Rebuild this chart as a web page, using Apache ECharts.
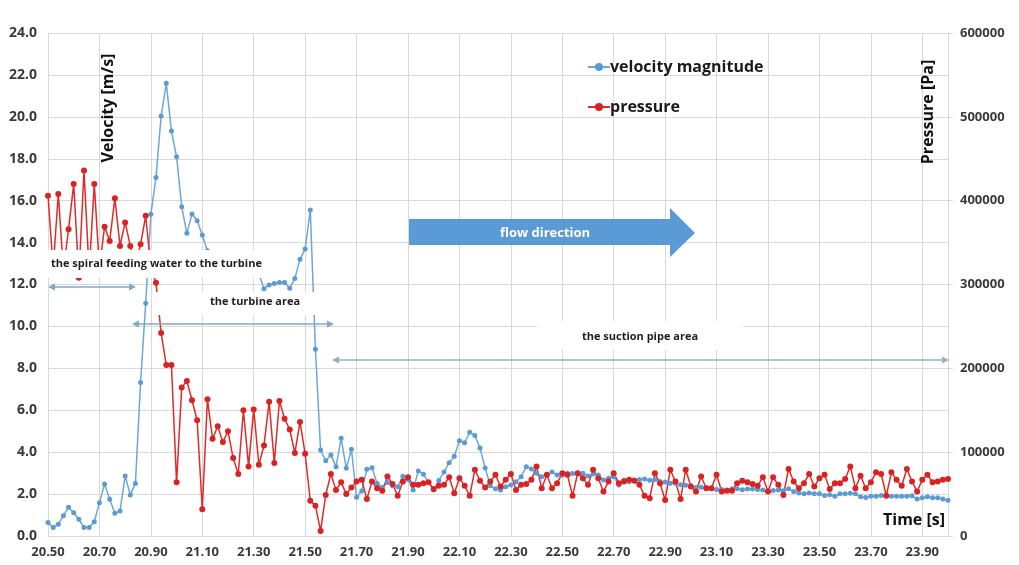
<!DOCTYPE html>
<html>
<head>
<meta charset="utf-8">
<title>velocity magnitude and pressure</title>
<script src="https://cdn.jsdelivr.net/npm/echarts@6.0.0/dist/echarts.min.js"></script>
<style>
	html, body { margin: 0; padding: 0; background: #fff; }
	#chart { width: 1019px; height: 565px; }
</style>
</head>
<body>
<div id="chart"></div>
<script>
	// time steps [s]
	var times = [
		'20.50','20.52','20.54','20.56','20.58','20.60','20.62','20.64','20.66','20.68',
		'20.70','20.72','20.74','20.76','20.78','20.80','20.82','20.84','20.86','20.88',
		'20.90','20.92','20.94','20.96','20.98','21.00','21.02','21.04','21.06','21.08',
		'21.10','21.12','21.14','21.16','21.18','21.20','21.22','21.24','21.26','21.28',
		'21.30','21.32','21.34','21.36','21.38','21.40','21.42','21.44','21.46','21.48',
		'21.50','21.52','21.54','21.56','21.58','21.60','21.62','21.64','21.66','21.68',
		'21.70','21.72','21.74','21.76','21.78','21.80','21.82','21.84','21.86','21.88',
		'21.90','21.92','21.94','21.96','21.98','22.00','22.02','22.04','22.06','22.08',
		'22.10','22.12','22.14','22.16','22.18','22.20','22.22','22.24','22.26','22.28',
		'22.30','22.32','22.34','22.36','22.38','22.40','22.42','22.44','22.46','22.48',
		'22.50','22.52','22.54','22.56','22.58','22.60','22.62','22.64','22.66','22.68',
		'22.70','22.72','22.74','22.76','22.78','22.80','22.82','22.84','22.86','22.88',
		'22.90','22.92','22.94','22.96','22.98','23.00','23.02','23.04','23.06','23.08',
		'23.10','23.12','23.14','23.16','23.18','23.20','23.22','23.24','23.26','23.28',
		'23.30','23.32','23.34','23.36','23.38','23.40','23.42','23.44','23.46','23.48',
		'23.50','23.52','23.54','23.56','23.58','23.60','23.62','23.64','23.66','23.68',
		'23.70','23.72','23.74','23.76','23.78','23.80','23.82','23.84','23.86','23.88',
		'23.90','23.92','23.94','23.96','23.98','24.00'
	];

	// velocity magnitude [m/s]
	var velocity = [
		0.64, 0.41, 0.56, 0.97, 1.37, 1.11, 0.80, 0.41, 0.41, 0.68,
		1.59, 2.48, 1.75, 1.08, 1.19, 2.86, 1.96, 2.51, 7.33, 11.10,
		15.35, 17.11, 20.04, 21.60, 19.32, 18.10, 15.71, 14.44, 15.36, 15.04,
		14.36, 13.61, 13.30, 13.10, 12.90, 12.80, 12.90, 12.70, 12.60, 12.80,
		12.70, 12.50, 11.80, 11.98, 12.05, 12.09, 12.09, 11.82, 12.29, 13.20,
		13.69, 15.55, 8.91, 4.10, 3.59, 3.86, 3.31, 4.66, 3.23, 4.14,
		1.85, 2.15, 3.18, 3.26, 2.51, 2.32, 2.55, 2.40, 2.35, 2.85,
		2.70, 2.20, 3.10, 2.95, 2.55, 2.20, 2.65, 3.05, 3.50, 3.80,
		4.55, 4.45, 4.95, 4.80, 4.20, 3.25, 2.40, 2.25, 2.20, 2.35,
		2.43, 2.59, 2.83, 3.31, 3.20, 3.00, 2.83, 2.91, 3.05, 2.91,
		2.90, 3.00, 2.98, 2.96, 3.00, 2.86, 2.96, 2.91, 2.67, 2.75,
		2.83, 2.43, 2.67, 2.59, 2.67, 2.70, 2.72, 2.66, 2.70, 2.60,
		2.58, 2.52, 2.52, 2.45, 2.42, 2.38, 2.32, 2.33, 2.30, 2.26,
		2.22, 2.22, 2.20, 2.26, 2.25, 2.21, 2.24, 2.24, 2.22, 2.20,
		2.13, 2.17, 2.19, 2.16, 2.26, 2.12, 2.05, 2.02, 2.05, 2.02,
		2.02, 1.93, 1.97, 1.90, 2.02, 2.01, 2.04, 2.01, 1.87, 1.84,
		1.90, 1.90, 1.93, 1.92, 1.90, 1.90, 1.90, 1.90, 1.92, 1.76,
		1.83, 1.87, 1.83, 1.83, 1.76, 1.70
	];

	// pressure [Pa]
	var pressure = [
		406000, 320000, 408000, 317000, 366000, 420000, 308000, 436000, 315000, 420000,
		320000, 369000, 352000, 403000, 346000, 374000, 346000, 322000, 348000, 382000,
		320000, 302000, 242000, 204000, 204000, 64000, 177000, 185000, 162000, 138000,
		32000, 163000, 116000, 131000, 112000, 125000, 93000, 74000, 150000, 83000,
		151000, 85000, 108000, 160000, 87000, 161000, 140000, 127000, 99000, 136000,
		98000, 42000, 36000, 6000, 49000, 74000, 55000, 64000, 50000, 58000,
		65000, 67000, 44000, 65000, 57000, 54000, 71000, 62000, 48000, 65000,
		70000, 61000, 61000, 63000, 64000, 56000, 60000, 61000, 70000, 51000,
		69000, 60000, 48000, 79000, 66000, 58000, 65000, 73000, 59000, 67000,
		74000, 55000, 61000, 62000, 67000, 83000, 57000, 73000, 57000, 63000,
		75000, 73000, 48000, 75000, 69000, 61000, 79000, 69000, 53000, 65000,
		75000, 63000, 65000, 67000, 66000, 61000, 48000, 45000, 75000, 63000,
		43000, 79000, 65000, 44000, 79000, 59000, 53000, 71000, 57000, 57000,
		73000, 53000, 54000, 54000, 63000, 66000, 64000, 62000, 60000, 70000,
		53000, 70000, 61000, 49000, 80000, 65000, 57000, 63000, 74000, 59000,
		69000, 73000, 56000, 63000, 63000, 68000, 83000, 57000, 72000, 57000,
		64000, 76000, 74000, 48000, 76000, 67000, 60000, 80000, 65000, 53000,
		67000, 73000, 64000, 65000, 67000, 68000
	];

	var seriesNames = ['velocity magnitude', 'pressure'];
	var notes = ['the spiral feeding water to the turbine', 'the turbine area', 'the suction pipe area', 'flow direction'];

	var fontName = '"Open Sans", "Noto Sans", sans-serif';
	var labelColor = '#3a3a3a';
	var gridColor = '#d9d9d9';

	// double headed arrow used for the area marks
	function arrow(x1, x2, y, color) {
		return [
			{ type: 'line', z: 100, shape: { x1: x1 + 5, y1: y, x2: x2 - 5, y2: y }, style: { stroke: color, lineWidth: 1.5 } },
			{ type: 'polygon', z: 100, shape: { points: [[x1, y], [x1 + 7, y - 3.5], [x1 + 7, y + 3.5]] }, style: { fill: color } },
			{ type: 'polygon', z: 100, shape: { points: [[x2, y], [x2 - 7, y - 3.5], [x2 - 7, y + 3.5]] }, style: { fill: color } }
		];
	}

	function note(text, x, y, size, color, align) {
		return {
			type: 'text', z: 101, x: x, y: y,
			style: { text: text, fill: color || '#1f1f1f', font: 'bold ' + (size || 11) + 'px ' + fontName, align: align || 'left', verticalAlign: 'middle' }
		};
	}

	var graphics = [
		// white label boxes that sit on top of the curves
		{ type: 'rect', z: 100, shape: { x: 40, y: 250, width: 230, height: 28 }, style: { fill: '#fff' } },
		{ type: 'rect', z: 100, shape: { x: 152, y: 292, width: 180, height: 23 }, style: { fill: '#fff' } },
		{ type: 'rect', z: 100, shape: { x: 537, y: 321, width: 206, height: 29 }, style: { fill: '#fff' } },
		note(notes[0], 51, 264),
		note(notes[1], 210, 302),
		note(notes[2], 640, 337, 11, null, 'center'),
		// flow direction arrow
		{
			type: 'polygon', z: 100,
			shape: { points: [[409, 219], [670, 219], [670, 208], [695, 233], [670, 257], [670, 245], [409, 245]] },
			style: { fill: '#5b9bd5' }
		},
		note(notes[3], 545, 233, 13, '#ffffff', 'center'),
		// axis titles
		{ type: 'text', z: 101, x: 108, y: 108, rotation: Math.PI / 2,
			style: { text: 'Velocity [m/s]', fill: '#111', font: 'bold 16px ' + fontName, align: 'center', verticalAlign: 'middle' } },
		{ type: 'text', z: 101, x: 928, y: 112, rotation: Math.PI / 2,
			style: { text: 'Pressure [Pa]', fill: '#111', font: 'bold 16px ' + fontName, align: 'center', verticalAlign: 'middle' } },
		note('Time [s]', 945, 520, 16, '#111', 'right')
	]
		.concat(arrow(48, 136, 287, '#7ea8cc'))
		.concat(arrow(132, 334, 324, '#7ea8cc'))
		.concat(arrow(332, 949, 360, '#8db5be'));

	var chart = echarts.init(document.getElementById('chart'));
	var option = {
		backgroundColor: '#fff',
		animation: false,
		grid: { left: 48, right: 71, top: 33, bottom: 29, containLabel: false },
		legend: {
			orient: 'vertical',
			left: 582,
			top: 54,
			itemGap: 24,
			itemWidth: 22,
			itemHeight: 10,
			data: seriesNames,
			textStyle: { color: '#1a1a1a', fontFamily: fontName, fontWeight: 'bold', fontSize: 16, padding: [0, 0, 0, -5] }
		},
		xAxis: {
			type: 'category',
			data: times,
			boundaryGap: false,
			axisLine: { lineStyle: { color: gridColor } },
			axisTick: { show: false },
			axisLabel: { interval: 9, margin: 10, color: labelColor, fontFamily: fontName, fontWeight: 'bold', fontSize: 13 },
			splitLine: { show: true, interval: 9, lineStyle: { color: gridColor } }
		},
		yAxis: [
			{
				type: 'value', min: 0, max: 24, interval: 2,
				axisLine: { show: false },
				axisTick: { show: false },
				axisLabel: {
					margin: 11, color: labelColor, fontFamily: fontName, fontWeight: 'bold', fontSize: 14,
					formatter: function (v) { return v.toFixed(1); }
				},
				splitLine: { lineStyle: { color: gridColor } }
			},
			{
				type: 'value', min: 0, max: 600000, interval: 100000,
				axisLine: { show: true, lineStyle: { color: gridColor } },
				axisTick: { show: true, length: 5, lineStyle: { color: gridColor } },
				axisLabel: {
					margin: 12, color: labelColor, fontFamily: fontName, fontWeight: 'bold', fontSize: 13,
					formatter: function (v) { return String(v); }
				},
				splitLine: { show: false }
			}
		],
		series: [
			{
				name: seriesNames[0],
				type: 'line',
				data: velocity,
				yAxisIndex: 0,
				symbol: 'circle',
				symbolSize: 5,
				showAllSymbol: true,
				lineStyle: { width: 1.5, color: '#6ea6d8' },
				itemStyle: { color: '#5b9bd5' }
			},
			{
				name: seriesNames[1],
				type: 'line',
				data: pressure,
				yAxisIndex: 1,
				symbol: 'circle',
				symbolSize: 6,
				showAllSymbol: true,
				lineStyle: { width: 1.5, color: '#df2a2a' },
				itemStyle: { color: '#d92323' }
			}
		],
		graphic: graphics
	};
	chart.setOption(option);
</script>
</body>
</html>
